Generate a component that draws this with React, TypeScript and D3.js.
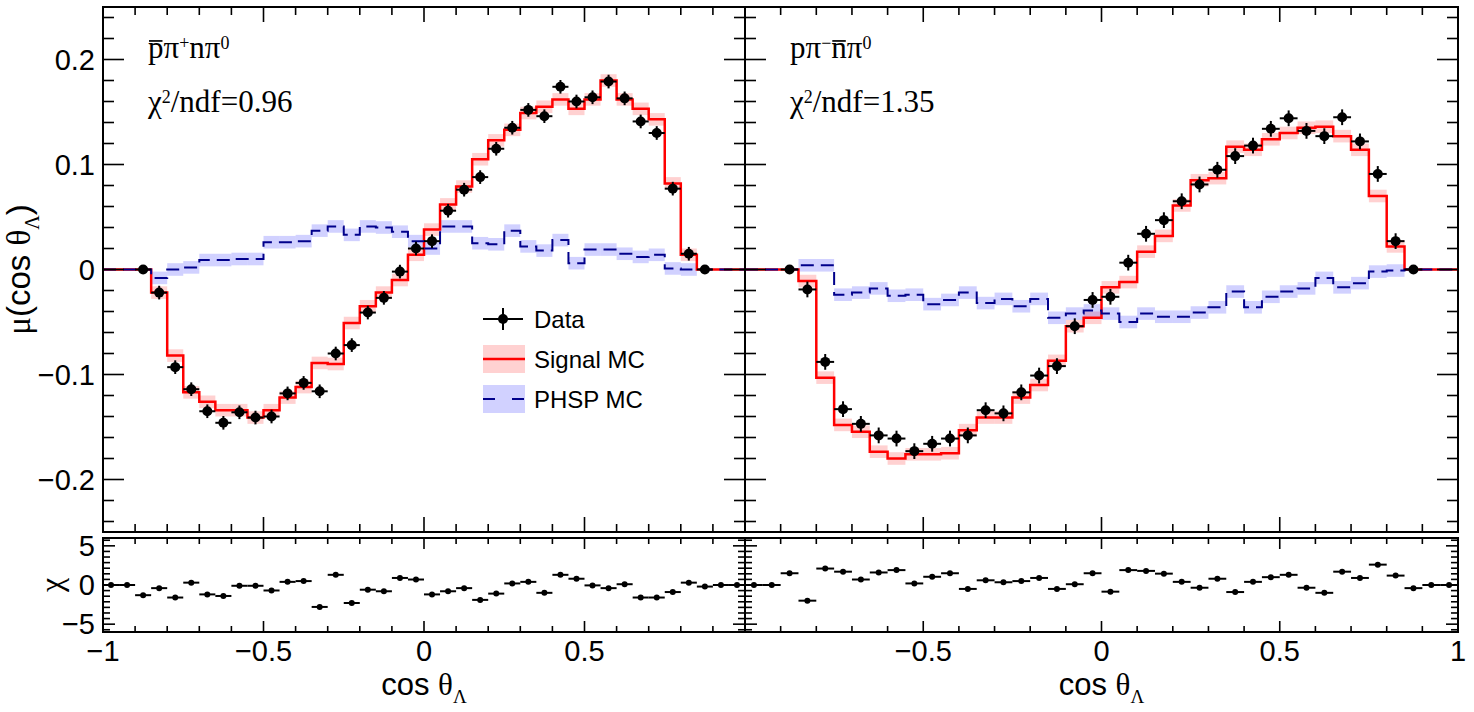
import React, { useLayoutEffect, useRef, useState } from 'react';
import * as d3 from 'd3';

// ---- binning: 40 bins of width 0.05 on [-1, 1] ----
const BIN_EDGES = d3.range(0, 41).map((i) => -1 + i * 0.05);
const BIN_CENTERS = BIN_EDGES.slice(0, 40).map((e) => e + 0.025);
const BIN_HALF = 0.025;

// ---- left channel: pbar pi+ n pi0 ----
const LEFT_DATA = [null, null, 0, -0.022, -0.093, -0.114, -0.135, -0.146, -0.136, -0.141, -0.140, -0.118, -0.108, -0.116, -0.080, -0.072, -0.041, -0.027, -0.002, 0.020, 0.027, 0.056, 0.076, 0.088, 0.115, 0.135, 0.152, 0.146, 0.174, 0.160, 0.164, 0.179, 0.163, 0.141, 0.130, 0.077, 0.015, 0, null, null];
const LEFT_SIGNAL = [0, 0, 0, -0.022, -0.082, -0.117, -0.126, -0.134, -0.134, -0.141, -0.134, -0.122, -0.112, -0.089, -0.090, -0.051, -0.035, -0.022, -0.010, 0.014, 0.038, 0.062, 0.079, 0.105, 0.123, 0.133, 0.149, 0.155, 0.162, 0.153, 0.162, 0.180, 0.162, 0.153, 0.143, 0.082, 0.014, 0, 0, 0];
const LEFT_PHSP = [0, 0, 0, -0.008, 0.000, 0.002, 0.009, 0.009, 0.010, 0.010, 0.026, 0.026, 0.027, 0.037, 0.041, 0.033, 0.041, 0.040, 0.036, 0.027, 0.020, 0.041, 0.041, 0.025, 0.024, 0.037, 0.022, 0.018, 0.028, 0.006, 0.019, 0.019, 0.015, 0.012, 0.014, 0.001, 0.000, 0, 0, 0];
const LEFT_CHI = [0, 0, -1.3, -0.4, -1.6, 0.3, -1.2, -1.4, -0.1, -0.1, -0.7, 0.4, 0.5, -2.8, 1.3, -2.3, -0.6, -0.8, 0.9, 0.7, -1.2, -0.8, -0.4, -1.9, -1.1, 0.2, 0.4, -1.0, 1.3, 0.8, -0.05, -0.4, 0.1, -1.6, -1.6, -0.9, 0.3, -0.2, 0, 0];
const LEFT_DATA_ERR = 0.0065;

// ---- right channel: p pi- nbar pi0 ----
const RIGHT_DATA = [null, null, 0, -0.019, -0.088, -0.133, -0.147, -0.158, -0.161, -0.173, -0.166, -0.161, -0.158, -0.134, -0.137, -0.117, -0.101, -0.092, -0.054, -0.029, -0.026, 0.0065, 0.034, 0.047, 0.065, 0.081, 0.095, 0.108, 0.118, 0.134, 0.144, 0.132, 0.127, 0.145, 0.122, 0.091, 0.027, 0, null, null];
const RIGHT_SIGNAL = [0, 0, 0, -0.011, -0.103, -0.148, -0.1545, -0.1735, -0.180, -0.176, -0.176, -0.175, -0.153, -0.141, -0.141, -0.122, -0.110, -0.087, -0.054, -0.046, -0.017, -0.012, 0.017, 0.032, 0.061, 0.085, 0.087, 0.117, 0.114, 0.124, 0.130, 0.135, 0.136, 0.127, 0.114, 0.070, 0.022, 0, 0, 0];
const RIGHT_PHSP = [0, 0, 0, 0.004, 0.004, -0.024, -0.022, -0.018, -0.025, -0.024, -0.033, -0.029, -0.022, -0.032, -0.028, -0.035, -0.028, -0.046, -0.042, -0.039, -0.042, -0.050, -0.042, -0.045, -0.045, -0.041, -0.036, -0.021, -0.036, -0.026, -0.021, -0.018, -0.008, -0.017, -0.013, -0.002, -0.001, 0, 0, 0];
const RIGHT_CHI = [0, 0, 1.5, -2.0, 2.1, 1.7, 0.7, 1.6, 1.9, 0.2, 1.05, 1.5, -0.5, 0.6, 0.35, 0.5, 0.9, -0.5, 0.1, 1.5, -0.85, 1.9, 1.8, 1.45, 0.4, -0.35, 0.8, -0.9, 0.4, 1.0, 1.3, -0.35, -1.0, 1.7, 0.9, 2.6, 1.2, -0.4, 0, 0];
const RIGHT_DATA_ERR = 0.0075;

// MC statistical band half-height
const MC_BAND = 0.006;

// ---- axes ----
const Y_TICKS = [-0.2, -0.1, 0, 0.1, 0.2];
const Y_TICK_LABELS = ['−0.2', '−0.1', '0', '0.1', '0.2'];
const CHI_TICKS = [-5, 0, 5];
const CHI_TICK_LABELS = ['−5', '0', '5'];
const X_TICKS_LEFT = [-1, -0.5, 0, 0.5];
const X_TICK_LABELS_LEFT = ['−1', '−0.5', '0', '0.5'];
const X_TICKS_RIGHT = [-0.5, 0, 0.5, 1];
const X_TICK_LABELS_RIGHT = ['−0.5', '0', '0.5', '1'];

const LEGEND = ['Data', 'Signal MC', 'PHSP MC'];

const SANS = '"Liberation Sans", Arial, Helvetica, sans-serif';
const SERIF = '"Liberation Serif", "Times New Roman", serif';
const RED = '#ff0000';
const NAVY = '#00008b';

// layout
const LEFT_X = 103;
const MID_X = 745;
const RIGHT_X = 1458;
const TOP_Y = 7;
const UPPER_BOTTOM = 532;
const LOWER_TOP = 538;
const LOWER_BOTTOM = 632;

const yUpper = d3.scaleLinear().domain([-0.25, 0.25]).range([UPPER_BOTTOM, TOP_Y]);
const yLower = d3.scaleLinear().domain([-6, 6]).range([LOWER_BOTTOM, LOWER_TOP]);

type Part = { t: string; sup?: boolean; bar?: boolean };

function RichText({ x, y, size, parts }: { x: number; y: number; size: number; parts: Part[] }) {
  const ref = useRef<SVGTextElement>(null);
  const [bars, setBars] = useState<{ x1: number; x2: number }[]>([]);
  useLayoutEffect(() => {
    const el = ref.current;
    if (!el) return;
    const out: { x1: number; x2: number }[] = [];
    let idx = 0;
    parts.forEach((p) => {
      if (p.bar) {
        const a = el.getExtentOfChar(idx);
        const b = el.getExtentOfChar(idx + p.t.length - 1);
        out.push({ x1: a.x + 1, x2: b.x + b.width - 1 });
      }
      idx += p.t.length;
    });
    setBars(out);
  }, []);
  let shift = 0;
  const spans = parts.map((p, i) => {
    const target = p.sup ? -0.3 * size : 0;
    const dy = target - shift;
    shift = target;
    return (
      <tspan key={i} dy={dy !== 0 ? dy : undefined} fontSize={p.sup ? size * 0.58 : undefined}>
        {p.t}
      </tspan>
    );
  });
  return (
    <g>
      <text ref={ref} x={x} y={y} fontSize={size} fontFamily={SERIF} fill="#000">
        {spans}
      </text>
      {bars.map((b, i) => (
        <line key={i} x1={b.x1} x2={b.x2} y1={y - 0.55 * size} y2={y - 0.55 * size} stroke="#000" strokeWidth={1.7} />
      ))}
    </g>
  );
}

function stepPath(x: d3.ScaleLinear<number, number>, y: d3.ScaleLinear<number, number>, values: number[]) {
  const pts: [number, number][] = values.map((v, i) => [BIN_EDGES[i], v]);
  pts.push([BIN_EDGES[40], values[39]]);
  return d3
    .line<[number, number]>()
    .x((d) => x(d[0]))
    .y((d) => y(d[1]))
    .curve(d3.curveStepAfter)(pts) as string;
}

function Ticks({
  x,
  y,
  yMajor,
  yMinor,
  xTickLen,
  yTickLen,
}: {
  x: d3.ScaleLinear<number, number>;
  y: d3.ScaleLinear<number, number>;
  yMajor: number[];
  yMinor: number[];
  xTickLen: [number, number];
  yTickLen: [number, number];
}) {
  const [x0, x1] = x.range();
  const [yb, yt] = y.range();
  const xMinor = d3.range(0, 21).map((i) => Math.round((-1 + i * 0.1) * 100) / 100);
  const isMajorX = (v: number) => Math.abs(v * 2 - Math.round(v * 2)) < 1e-6;
  const lines: JSX.Element[] = [];
  xMinor.forEach((v, i) => {
    const len = isMajorX(v) ? xTickLen[0] : xTickLen[1];
    const px = x(v);
    lines.push(<line key={`xb${i}`} x1={px} x2={px} y1={yb} y2={yb - len} />);
    lines.push(<line key={`xt${i}`} x1={px} x2={px} y1={yt} y2={yt + len} />);
  });
  yMinor.forEach((v, i) => {
    const major = yMajor.some((m) => Math.abs(m - v) < 1e-9);
    const len = major ? yTickLen[0] : yTickLen[1];
    const py = y(v);
    lines.push(<line key={`yl${i}`} x1={x0} x2={x0 + len} y1={py} y2={py} />);
    lines.push(<line key={`yr${i}`} x1={x1} x2={x1 - len} y1={py} y2={py} />);
  });
  return (
    <g stroke="#000" strokeWidth={1.6}>
      {lines}
    </g>
  );
}

function Panel({
  x0,
  x1,
  data,
  dataErr,
  signal,
  phsp,
  chi,
  title,
  chi2,
  xTicks,
  xTickLabels,
}: {
  x0: number;
  x1: number;
  data: (number | null)[];
  dataErr: number;
  signal: number[];
  phsp: number[];
  chi: number[];
  title: Part[];
  chi2: string;
  xTicks: number[];
  xTickLabels: string[];
}) {
  const x = d3.scaleLinear().domain([-1, 1]).range([x0, x1]);
  const clipId = `clip${x0}`;
  const upperMinor = d3.range(-12, 13).map((i) => Math.round(i * 0.02 * 1000) / 1000);
  const lowerMinor = d3.range(-8, 9).map((i) => (i * 5) / 7);
  const filled = d3.range(3, 37);
  return (
    <g>
      <defs>
        <clipPath id={clipId}>
          <rect x={x0} y={TOP_Y} width={x1 - x0} height={UPPER_BOTTOM - TOP_Y} />
        </clipPath>
      </defs>
      <g clipPath={`url(#${clipId})`}>
        {/* MC uncertainty bands */}
        {filled.map((i) => (
          <rect
            key={`sb${i}`}
            x={x(BIN_EDGES[i])}
            width={x(BIN_EDGES[i + 1]) - x(BIN_EDGES[i])}
            y={yUpper(signal[i] + MC_BAND)}
            height={yUpper(signal[i] - MC_BAND) - yUpper(signal[i] + MC_BAND)}
            fill="rgb(255,0,0)"
            fillOpacity={0.18}
          />
        ))}
        {filled.map((i) => (
          <rect
            key={`pb${i}`}
            x={x(BIN_EDGES[i])}
            width={x(BIN_EDGES[i + 1]) - x(BIN_EDGES[i])}
            y={yUpper(phsp[i] + MC_BAND)}
            height={yUpper(phsp[i] - MC_BAND) - yUpper(phsp[i] + MC_BAND)}
            fill="rgb(0,0,255)"
            fillOpacity={0.18}
          />
        ))}
        <path d={stepPath(x, yUpper, signal)} fill="none" stroke={RED} strokeWidth={2.5} />
        <path d={stepPath(x, yUpper, phsp)} fill="none" stroke={NAVY} strokeWidth={2} strokeDasharray="13 7" />
        {/* data points */}
        {data.map((v, i) =>
          v === null ? null : (
            <g key={`d${i}`} stroke="#000" strokeWidth={2}>
              <line x1={x(BIN_CENTERS[i] - BIN_HALF)} x2={x(BIN_CENTERS[i] + BIN_HALF)} y1={yUpper(v)} y2={yUpper(v)} />
              {v !== 0 && (
                <line x1={x(BIN_CENTERS[i])} x2={x(BIN_CENTERS[i])} y1={yUpper(v - dataErr)} y2={yUpper(v + dataErr)} />
              )}
              <circle cx={x(BIN_CENTERS[i])} cy={yUpper(v)} r={5} fill="#000" stroke="none" />
            </g>
          )
        )}
      </g>
      {/* ratio (chi) pad */}
      {chi.map((v, i) => (
        <g key={`c${i}`}>
          <line
            x1={x(BIN_CENTERS[i] - BIN_HALF)}
            x2={x(BIN_CENTERS[i] + BIN_HALF)}
            y1={yLower(v)}
            y2={yLower(v)}
            stroke="#000"
            strokeWidth={2}
          />
          <circle cx={x(BIN_CENTERS[i])} cy={yLower(v)} r={3} fill="#000" />
        </g>
      ))}
      {/* frames */}
      <rect x={x0} y={TOP_Y} width={x1 - x0} height={UPPER_BOTTOM - TOP_Y} fill="none" stroke="#000" strokeWidth={2} />
      <rect x={x0} y={LOWER_TOP} width={x1 - x0} height={LOWER_BOTTOM - LOWER_TOP} fill="none" stroke="#000" strokeWidth={2} />
      <Ticks x={x} y={yUpper} yMajor={Y_TICKS} yMinor={upperMinor} xTickLen={[15, 8]} yTickLen={[21, 11]} />
      <Ticks x={x} y={yLower} yMajor={CHI_TICKS} yMinor={lowerMinor} xTickLen={[11, 6]} yTickLen={[12, 7]} />
      {/* x tick labels */}
      {xTicks.map((t, i) => (
        <text key={`xl${i}`} x={x(t)} y={661} textAnchor="middle" fontFamily={SANS} fontSize={29}>
          {xTickLabels[i]}
        </text>
      ))}
      {/* x title */}
      <text x={x(0)} y={695} textAnchor="middle" fontFamily={SANS} fontSize={31}>
        cos <tspan fontFamily={SERIF}>θ</tspan>
        <tspan dy={8} fontSize={19} fontFamily={SERIF}>
          Λ
        </tspan>
      </text>
      {/* channel label and fit quality */}
      <RichText x={x0 + 45} y={58} size={31} parts={title} />
      <RichText x={x0 + 45} y={112} size={31} parts={[{ t: 'χ' }, { t: '2', sup: true }, { t: `/ndf=${chi2}` }]} />
    </g>
  );
}

export default function App() {
  return (
    <svg
      width={1474}
      height={712}
      viewBox="0 0 1474 712"
      style={{ position: 'absolute', left: 0, top: 0, background: '#fff' }}
    >
      <rect width={1474} height={712} fill="#fff" />
      <Panel
        x0={LEFT_X}
        x1={MID_X}
        data={LEFT_DATA}
        dataErr={LEFT_DATA_ERR}
        signal={LEFT_SIGNAL}
        phsp={LEFT_PHSP}
        chi={LEFT_CHI}
        title={[{ t: 'p', bar: true }, { t: 'π' }, { t: '+', sup: true }, { t: 'nπ' }, { t: '0', sup: true }]}
        chi2="0.96"
        xTicks={X_TICKS_LEFT}
        xTickLabels={X_TICK_LABELS_LEFT}
      />
      <Panel
        x0={MID_X}
        x1={RIGHT_X}
        data={RIGHT_DATA}
        dataErr={RIGHT_DATA_ERR}
        signal={RIGHT_SIGNAL}
        phsp={RIGHT_PHSP}
        chi={RIGHT_CHI}
        title={[{ t: 'pπ' }, { t: '−', sup: true }, { t: 'n', bar: true }, { t: 'π' }, { t: '0', sup: true }]}
        chi2="1.35"
        xTicks={X_TICKS_RIGHT}
        xTickLabels={X_TICK_LABELS_RIGHT}
      />
      {/* y tick labels, upper */}
      {Y_TICKS.map((t, i) => (
        <text key={`yl${i}`} x={95} y={yUpper(t) + 10} textAnchor="end" fontFamily={SANS} fontSize={29}>
          {Y_TICK_LABELS[i]}
        </text>
      ))}
      {/* y tick labels, lower */}
      {CHI_TICKS.map((t, i) => (
        <text key={`cl${i}`} x={95} y={yLower(t) + 10} textAnchor="end" fontFamily={SANS} fontSize={29}>
          {CHI_TICK_LABELS[i]}
        </text>
      ))}
      {/* y titles */}
      <text transform={`translate(30, ${yUpper(0)}) rotate(-90)`} textAnchor="middle" fontFamily={SANS} fontSize={33}>
        <tspan fontFamily={SERIF}>μ</tspan>(cos <tspan fontFamily={SERIF}>θ</tspan>
        <tspan dy={9} fontSize={20} fontFamily={SERIF}>
          Λ
        </tspan>
        <tspan dy={-9}>)</tspan>
      </text>
      <text transform={`translate(62, ${yLower(0)}) rotate(-90)`} textAnchor="middle" fontFamily={SERIF} fontSize={32}>
        χ
      </text>
      {/* legend */}
      <g>
        <line x1={483} x2={523} y1={319} y2={319} stroke="#000" strokeWidth={2} />
        <line x1={503} x2={503} y1={308} y2={330} stroke="#000" strokeWidth={2} />
        <circle cx={503} cy={319} r={5} fill="#000" />
        <rect x={483} y={345} width={42} height={28} fill="rgb(255,0,0)" fillOpacity={0.18} />
        <line x1={483} x2={525} y1={359} y2={359} stroke={RED} strokeWidth={2.5} />
        <rect x={483} y={385} width={42} height={28} fill="rgb(0,0,255)" fillOpacity={0.18} />
        <line x1={483} x2={525} y1={399} y2={399} stroke={NAVY} strokeWidth={2} strokeDasharray="12 17" />
        {LEGEND.map((l, i) => (
          <text key={l} x={534} y={328 + i * 40} fontFamily={SANS} fontSize={24}>
            {l}
          </text>
        ))}
      </g>
    </svg>
  );
}
